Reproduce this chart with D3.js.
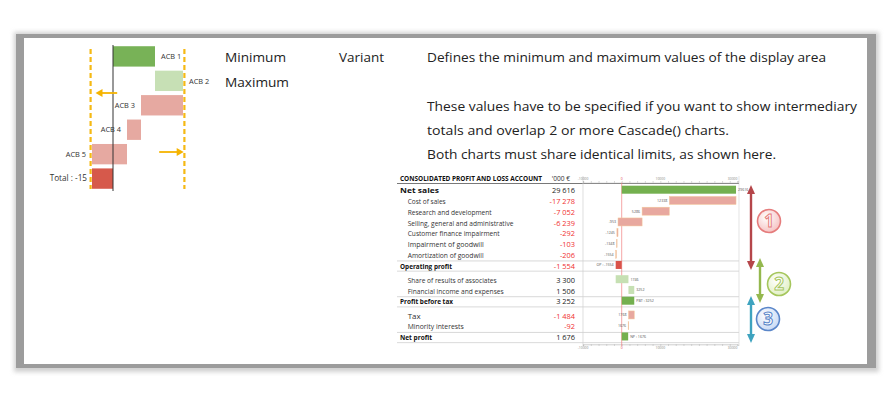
<!DOCTYPE html>
<html><head><meta charset="utf-8">
<script src="https://cdn.jsdelivr.net/npm/d3@7"></script>
<style>body{margin:0;background:#fff}svg{display:block}</style>
</head><body>
<svg id="c" width="890" height="404"></svg>
<script>
// ---------- DATA ----------
const acbNames = ["ACB 1","ACB 2","ACB 3","ACB 4","ACB 5"];
const acbValues = [30, 20, -30, -10, -25];
const acbTotalLabel = "Total : -15";
const acbLimits = [-16, 51];

const docLines = [
  "Defines the minimum and maximum values of the display area",
  "These values have to be specified if you want to show intermediary",
  "totals and overlap 2 or more Cascade() charts.",
  "Both charts must share identical limits, as shown here."
];
const paramNames = ["Minimum","Maximum"];
const paramType = "Variant";

const plTitle = "CONSOLIDATED PROFIT AND LOSS ACCOUNT";
const plUnit = "'000 €";
const plItems = ["Net sales","Cost of sales","Research and development","Selling, general and administrative",
  "Customer finance impairment","Impairment of goodwill","Amortization of goodwill","Operating profit",
  "Share of results of associates","Financial income and expenses","Profit before tax","Tax",
  "Minority interests","Net profit"];
const plValues = [29616,-17278,-7052,-6239,-292,-103,-206,-1554,3300,1506,3252,-1484,-92,1676];
const plIsTotal = [true,false,false,false,false,false,false,true,false,false,true,false,false,true];
const plTotalPrefix = ["","","","","","","","OP : ","","","PBT : ","","","NP : "];
const plLimits = [-10000, 30000];
const plTickLabels = [-10000, 0, 10000, 30000];
const sectionNumbers = ["1","2","3"];

// ---------- DRAW ----------
const svg = d3.select("#c");
const defs = svg.append("defs");
const f = defs.append("filter").attr("id","blur").attr("x","-5%").attr("y","-5%").attr("width","110%").attr("height","110%");
f.append("feGaussianBlur").attr("stdDeviation",2);

// frame
svg.append("rect").attr("x",14).attr("y",32).attr("width",865).attr("height",340).attr("fill","#d0d0d0").attr("filter","url(#blur)");
svg.append("rect").attr("x",16).attr("y",34).attr("width",860).attr("height",334).attr("fill","#9c9c9c");
svg.append("rect").attr("x",24).attr("y",38).attr("width",843).attr("height",326).attr("fill","#fff");

const font = "'Open Sans', 'Noto Sans', sans-serif";

// ---------- small cascade chart ----------
const ax = d3.scaleLinear().domain(acbLimits).range([90.6, 184.4]);
const acbRows = acbNames.concat([acbTotalLabel]);
const ay = d3.scaleBand().domain(acbRows).range([45, 190]).paddingInner(4/24).paddingOuter(0.05);
let cum = 0;
const acbBars = acbValues.map((v,i)=>{const s=cum; cum+=v; return {name:acbNames[i],v,s,e:cum,total:false};});
acbBars.push({name:acbTotalLabel,v:cum,s:0,e:cum,total:true});
const g1 = svg.append("g");
g1.selectAll("rect.b").data(acbBars).join("rect")
  .attr("x",d=>ax(Math.min(d.s,d.e))).attr("width",d=>Math.abs(ax(d.e)-ax(d.s)))
  .attr("y",d=>ay(d.name)).attr("height",ay.bandwidth())
  .attr("fill",(d,i)=>d.total?"#d6594b":(d.v>0?(i===0?"#78b257":"#c7e0b5"):"#e6a9a1"));
g1.append("line").attr("x1",ax(0)).attr("x2",ax(0)).attr("y1",45).attr("y2",191).attr("stroke","#333").attr("stroke-width",1);
g1.selectAll("line.lim").data(acbLimits).join("line")
  .attr("x1",d=>ax(d)).attr("x2",d=>ax(d)).attr("y1",49).attr("y2",189)
  .attr("stroke","#f5b914").attr("stroke-width",2.2).attr("stroke-dasharray","5,3");
g1.selectAll("text.l").data(acbBars).join("text")
  .attr("x",d=>d.total?ax(d.e)-5:(d.v>0?ax(d.e)+6:ax(d.e)-6))
  .attr("y",d=>ay(d.name)+ay.bandwidth()/2+2.7)
  .attr("text-anchor",d=>(d.total||d.v<0)?"end":"start")
  .attr("font-family",font).attr("font-size",d=>d.total?8.2:7.4).attr("fill","#333")
  .text(d=>d.name);
// orange arrows
function arrow(g,x1,x2,y,col){
  const dir = Math.sign(x2-x1);
  g.append("line").attr("x1",x1).attr("x2",x2-dir*5).attr("y1",y).attr("y2",y).attr("stroke",col).attr("stroke-width",1.8);
  g.append("path").attr("d",`M${x2},${y} L${x2-dir*7},${y-4} L${x2-dir*7},${y+4} Z`).attr("fill",col);
}
arrow(g1, ax(3), ax(-12.5), 93, "#f5b400");
arrow(g1, ax(33), ax(50.5), 152, "#f5b400");

// ---------- doc text ----------
const tg = svg.append("g").attr("font-family",font).attr("font-size",13.5).attr("fill","#222");
tg.append("text").attr("x",225).attr("y",62).attr("textLength",61).attr("lengthAdjust","spacingAndGlyphs").text(paramNames[0]);
tg.append("text").attr("x",225).attr("y",87).attr("textLength",64).attr("lengthAdjust","spacingAndGlyphs").text(paramNames[1]);
tg.append("text").attr("x",339).attr("y",62).attr("textLength",45).attr("lengthAdjust","spacingAndGlyphs").text(paramType);
const docY=[62,111,135,159], docW=[399,430,302,349];
docLines.forEach((t,i)=>tg.append("text").attr("x",427).attr("y",docY[i]).attr("textLength",docW[i]).attr("lengthAdjust","spacingAndGlyphs").text(t));

// ---------- P&L table ----------
const rowStep = 10.75, row0 = 190.7, gapH = 3.5;
let gaps = 0;
const rows = plItems.map((name,i)=>{
  const r = {name, v:plValues[i], total:plIsTotal[i], prefix:plTotalPrefix[i], gap:gaps};
  if (plIsTotal[i] && i>0) gaps++;
  return r;
});
const yIdx = d3.scaleLinear().domain([0,1]).range([row0,row0+rowStep]);
rows.forEach((r,i)=>r.y = yIdx(i)+r.gap*gapH);

const pg = svg.append("g").attr("font-family",font);
pg.append("text").attr("x",400).attr("y",181.3).attr("font-size",6.8).attr("font-weight","bold").attr("fill","#111")
  .attr("textLength",142).attr("lengthAdjust","spacingAndGlyphs").text(plTitle);
pg.append("text").attr("x",570).attr("y",181.3).attr("text-anchor","end").attr("font-size",6.6).attr("fill","#333").text(plUnit);
pg.append("line").attr("x1",397).attr("x2",739).attr("y1",183.5).attr("y2",183.5).attr("stroke","#555").attr("stroke-width",0.8);

pg.selectAll("text.n").data(rows).join("text")
  .attr("x",d=>d.total?400:407.7).attr("y",d=>d.y+2.6)
  .attr("font-size",7.6).attr("font-weight",d=>d.total?"bold":"normal").attr("fill",d=>d.total?"#111":"#333")
  .attr("textLength",(d,i)=>[39,38,84,105.7,92,76,76,52,89,96,53,13,56,32][i]).attr("lengthAdjust","spacingAndGlyphs")
  .text(d=>d.name);
const fmt = v => (v<0?"-":"") + d3.format(",")(Math.abs(v)).replace(/,/g," ");
pg.selectAll("text.v").data(rows).join("text")
  .attr("x",575).attr("y",d=>d.y+2.6).attr("text-anchor","end")
  .attr("font-size",7.4).attr("fill",d=>d.v<0?"#f03030":"#222").text(d=>fmt(d.v));

// separators
const sepY = [];
rows.forEach((r,i)=>{ if(r.total && i>0){ sepY.push(r.y-5); sepY.push(r.y+5.2);} });
pg.selectAll("line.sep").data(sepY).join("line")
  .attr("x1",397).attr("x2",739).attr("y1",d=>d).attr("y2",d=>d).attr("stroke","#c8c8c8").attr("stroke-width",0.7);

// chart
const px = d3.scaleLinear().domain(plLimits).range([583.1, 737.5]);
pg.append("line").attr("x1",583).attr("x2",583).attr("y1",176).attr("y2",346).attr("stroke","#d0d0d0").attr("stroke-width",0.7);
pg.append("line").attr("x1",739).attr("x2",739).attr("y1",176).attr("y2",346).attr("stroke","#d8d8d8").attr("stroke-width",0.7);
[182.7, 344.3].forEach((ya,k)=>{
  const axis = (k===0?d3.axisTop(px):d3.axisBottom(px)).tickValues(d3.range(-10000,30001,2000)).tickSize(1.6).tickFormat("");
  const ag = pg.append("g").attr("transform",`translate(0,${ya})`).call(axis);
  ag.select(".domain").attr("stroke","#aaa").attr("stroke-width",0.6);
  ag.selectAll(".tick line").attr("stroke","#aaa").attr("stroke-width",0.5);
  pg.selectAll(null).data(plTickLabels).join("text")
    .attr("x",d=>px(d)).attr("y",k===0?ya-3:ya+4.8).attr("text-anchor",d=>d===plLimits[1]?"end":"middle")
    .attr("font-size",3.4).attr("fill",d=>d===0?"#e04040":"#888").text(d=>d);
});
pg.append("line").attr("x1",px(0)).attr("x2",px(0)).attr("y1",182.7).attr("y2",346).attr("stroke","#f08080").attr("stroke-width",0.7);

let c2 = 0;
rows.forEach(r=>{
  if(r.total){ r.s=0; r.e=r.v; c2=r.v; } else { r.s=c2; c2+=r.v; r.e=c2; }
});
const bh = 8;
pg.selectAll("rect.pb").data(rows).join("rect")
  .attr("x",d=>px(Math.min(d.s,d.e))).attr("width",d=>Math.max(0.6,Math.abs(px(d.e)-px(d.s))))
  .attr("y",d=>d.y-1-bh/2).attr("height",bh)
  .attr("fill",d=>d.total?(d.v>=0?"#74b04f":"#d9534a"):(d.v>=0?"#c6e0b3":"#e8a89f"))
  .attr("stroke",d=>(!d.total&&d.v<0)?"#f3c99a":"none").attr("stroke-width",0.5);
pg.selectAll("text.pl").data(rows).join("text")
  .attr("x",d=>d.v>=0?px(d.e)+2:px(d.e)-2)
  .attr("y",d=>d.y+0.3).attr("text-anchor",d=>d.v>=0?"start":"end")
  .attr("font-size",3.6).attr("fill","#555").text(d=>d.prefix+d.e);

// ---------- section arrows ----------
function vArrow(x,y1,y2,col){
  const g = svg.append("g");
  g.append("line").attr("x1",x).attr("x2",x).attr("y1",y1+6).attr("y2",y2-6).attr("stroke",col).attr("stroke-width",2.4);
  g.append("path").attr("d",`M${x},${y1} L${x-4},${y1+9} L${x+4},${y1+9} Z`).attr("fill",col);
  g.append("path").attr("d",`M${x},${y2} L${x-4},${y2-9} L${x+4},${y2-9} Z`).attr("fill",col);
}
vArrow(751, 185, 270, "#b5464a");
vArrow(760, 258, 303, "#94b84e");
vArrow(751, 296, 343, "#3ea3bf");

const circ = [
  {x:769,y:221,fill:"#f6c4c4",edge:"#e57c7c",txt:"#e57c7c"},
  {x:779,y:284,fill:"#e2f0c6",edge:"#a5c65c",txt:"#a5c65c"},
  {x:768,y:319,fill:"#c9daf5",edge:"#5a86c9",txt:"#5a86c9"}
];
circ.forEach((c,i)=>{
  const gid="rg"+i;
  const rg = defs.append("radialGradient").attr("id",gid).attr("cx","40%").attr("cy","35%").attr("r","65%");
  rg.append("stop").attr("offset","0%").attr("stop-color","#fff");
  rg.append("stop").attr("offset","100%").attr("stop-color",c.fill);
  svg.append("circle").attr("cx",c.x).attr("cy",c.y).attr("r",11.5).attr("fill",`url(#${gid})`).attr("stroke",c.edge).attr("stroke-width",1.6);
  svg.append("text").attr("x",c.x).attr("y",c.y+6).attr("text-anchor","middle").attr("font-family",font)
    .attr("font-size",17).attr("font-weight","bold").attr("fill","#fff").attr("stroke",c.txt).attr("stroke-width",1)
    .text(sectionNumbers[i]);
});
</script>
</body></html>
